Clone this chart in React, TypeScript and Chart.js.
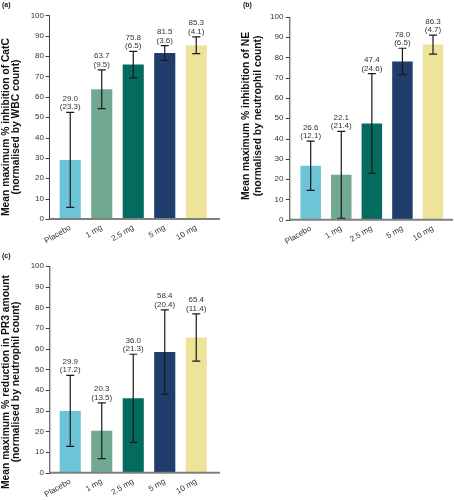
import React, { useEffect, useRef } from "react";
import { Chart, registerables } from "chart.js";
Chart.register(...registerables);

const doses = ["Placebo", "1 mg", "2.5 mg", "5 mg", "10 mg"];
const barColors = ["#6cc4d6", "#70a892", "#046b5f", "#1f3e6c", "#ede49a"];
const yTicks = [0, 10, 20, 30, 40, 50, 60, 70, 80, 90, 100];

const catcMean = [29.0, 63.7, 75.8, 81.5, 85.3];
const catcSD = [23.3, 9.5, 6.5, 3.6, 4.1];
const neMean = [26.6, 22.1, 47.4, 78.0, 86.3];
const neSD = [12.1, 21.4, 24.6, 6.5, 4.7];
const pr3Mean = [29.9, 20.3, 36.0, 58.4, 65.4];
const pr3SD = [17.2, 13.5, 21.3, 20.4, 11.4];

const FONT = "'Liberation Sans', Arial, sans-serif";

type Layout = {
  W: number; H: number; left: number; right: number; top: number; bottom: number;
  axisX: number; axisEnd: number; tickPad: number; t1x: number; t2x: number; tcy: number;
  lx: number; ly: number;
};

function Panel(props: {
  label: string; means: number[]; sds: number[]; title1: string; title2: string;
  L: Layout; x: number; y: number;
}) {
  const { label, means, sds, title1, title2, L } = props;
  const ref = useRef<HTMLCanvasElement>(null);
  useEffect(() => {
    const canvas = ref.current!;
    const plugin = {
      id: "extras",
      afterDatasetsDraw(chart: any) {
        const ctx = chart.ctx as CanvasRenderingContext2D;
        const ys = chart.scales.y;
        const a = chart.chartArea;
        const meta = chart.getDatasetMeta(0);
        ctx.save();
        meta.data.forEach((el: any, i: number) => {
          const cx = el.x;
          const hi = ys.getPixelForValue(means[i] + sds[i]);
          const lo = ys.getPixelForValue(means[i] - sds[i]);
          ctx.strokeStyle = "#1a1a1a";
          ctx.lineWidth = 1.2;
          ctx.beginPath();
          ctx.moveTo(cx, hi); ctx.lineTo(cx, lo);
          ctx.moveTo(cx - 4, hi); ctx.lineTo(cx + 4, hi);
          ctx.moveTo(cx - 4, lo); ctx.lineTo(cx + 4, lo);
          ctx.stroke();
          ctx.fillStyle = "#333";
          ctx.font = `8px ${FONT}`;
          ctx.textAlign = "center";
          ctx.textBaseline = "alphabetic";
          ctx.fillText(`(${sds[i].toFixed(1)})`, cx, hi - 3);
          ctx.fillText(means[i].toFixed(1), cx, hi - 11.5);
        });
        ctx.strokeStyle = "#808080";
        ctx.lineWidth = 2;
        ctx.beginPath();
        ctx.moveTo(L.axisX, a.bottom);
        ctx.lineTo(L.axisEnd, a.bottom);
        ctx.stroke();
        ctx.strokeStyle = "#404040";
        ctx.lineWidth = 1;
        ctx.beginPath();
        ctx.moveTo(L.axisX + 0.5, a.top);
        ctx.lineTo(L.axisX + 0.5, a.bottom);
        yTicks.forEach((v) => {
          const py = Math.round(ys.getPixelForValue(v)) + 0.5;
          ctx.moveTo(L.axisX - 3.5, py);
          ctx.lineTo(L.axisX + 0.5, py);
        });
        ctx.stroke();
        ctx.fillStyle = "#111";
        ctx.font = `bold 10.3px ${FONT}`;
        ctx.textAlign = "center";
        ctx.textBaseline = "middle";
        ctx.save();
        ctx.translate(L.t1x, L.tcy);
        ctx.rotate(-Math.PI / 2);
        ctx.fillText(title1, 0, 0);
        ctx.restore();
        ctx.save();
        ctx.translate(L.t2x, L.tcy);
        ctx.rotate(-Math.PI / 2);
        ctx.fillText(title2, 0, 0);
        ctx.restore();
        ctx.font = `bold 7px ${FONT}`;
        ctx.textAlign = "left";
        ctx.textBaseline = "top";
        ctx.fillText(label, L.lx, L.ly);
        ctx.restore();
      },
    };
    const chart = new Chart(canvas, {
      type: "bar",
      data: {
        labels: doses,
        datasets: [{ data: means, backgroundColor: barColors, borderWidth: 0, barPercentage: 0.67, categoryPercentage: 1 }],
      },
      options: {
        responsive: false,
        animation: false,
        devicePixelRatio: 1,
        layout: { padding: { top: L.top, right: L.W - L.right, left: 0, bottom: 0 } },
        plugins: { legend: { display: false }, tooltip: { enabled: false } },
        scales: {
          x: {
            ticks: { minRotation: 30, maxRotation: 30, autoSkip: false, padding: 4, color: "#333", font: { size: 8, family: FONT } },
            grid: { display: false, drawTicks: false },
            border: { display: false },
            afterFit: (s: any) => { s.height = L.H - L.bottom; },
          },
          y: {
            min: 0, max: 100,
            ticks: { stepSize: 10, padding: L.tickPad, color: "#333", font: { size: 8, family: FONT } },
            grid: { display: false, drawTicks: false },
            border: { display: false },
            afterFit: (s: any) => { s.width = L.left; },
          },
        },
      },
      plugins: [plugin],
    } as any);
    return () => chart.destroy();
  }, []);
  return (
    <canvas
      ref={ref}
      width={L.W}
      height={L.H}
      style={{ position: "absolute", left: props.x, top: props.y, width: L.W, height: L.H }}
    />
  );
}

const LA: Layout = { W: 227, H: 250, left: 54.5, right: 212, top: 12, bottom: 219, axisX: 49, axisEnd: 220, tickPad: 10.5, t1x: 6, t2x: 16, tcy: 127, lx: 2, ly: 2 };
const LB: Layout = { W: 227, H: 250, left: 68.4, right: 221.3, top: 12.3, bottom: 219.7, axisX: 62.3, axisEnd: 226, tickPad: 12, t1x: 19, t2x: 31, tcy: 116, lx: 16, ly: 2 };
const LC: Layout = { W: 227, H: 250, left: 54.5, right: 212, top: 16, bottom: 222.7, axisX: 49.3, axisEnd: 220, tickPad: 10.5, t1x: 6, t2x: 16, tcy: 132, lx: 2, ly: 3 };

export default function App() {
  return (
    <div style={{ position: "fixed", left: 0, top: 0, width: 454, height: 500, background: "#fff", overflow: "hidden" }}>
      <Panel label="(a)" means={catcMean} sds={catcSD} title1="Mean maximum % inhibition of CatC" title2="(normalised by WBC count)" L={LA} x={0} y={0} />
      <Panel label="(b)" means={neMean} sds={neSD} title1="Mean maximum % inhibition of NE" title2="(normalised by neutrophil count)" L={LB} x={227} y={0} />
      <Panel label="(c)" means={pr3Mean} sds={pr3SD} title1="Mean maximum % reduction in PR3 amount" title2="(normalised by neutrophil count)" L={LC} x={0} y={250} />
    </div>
  );
}
